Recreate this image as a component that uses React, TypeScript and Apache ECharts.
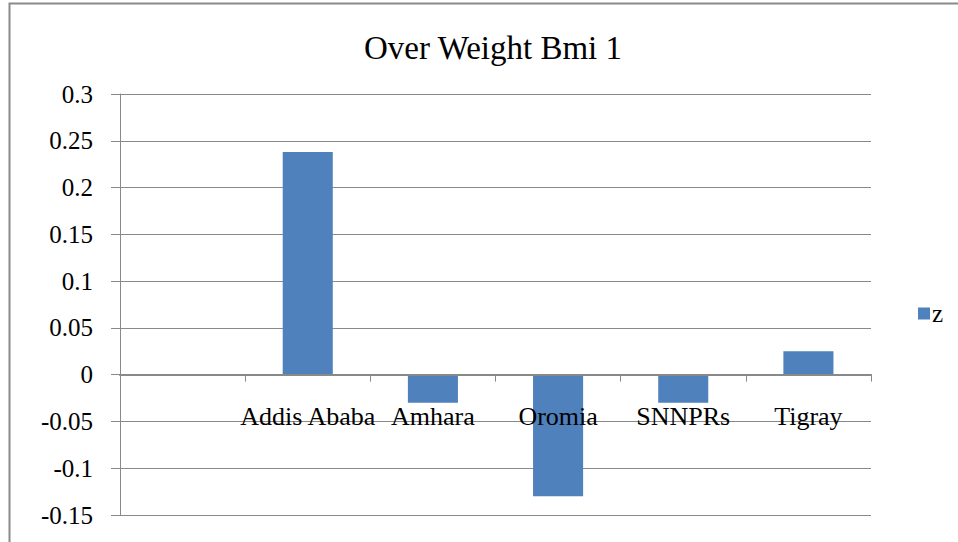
import React, { useEffect, useRef } from "react";
import * as echarts from "echarts";

// Regions on the category axis; the first slot is left empty.
const regions: string[] = ["", "Addis Ababa", "Amhara", "Oromia", "SNNPRs", "Tigray"];
// z value per region (null for the empty slot).
const zValues: (number | null)[] = [null, 0.238, -0.03, -0.13, -0.03, 0.025];
const seriesName = "z";
const chartTitle = "Over Weight Bmi 1";

const Y_MIN = -0.15;
const Y_MAX = 0.3;
const Y_STEP = 0.05;

const FONT = '"Liberation Serif", "Times New Roman", serif';
const GRID_GRAY = "#898989";
const BAR_BLUE = "#4f81bd";

const GRID_TOP = 94;
const GRID_BOTTOM = 27;
const CHART_H = 542;

export default function App() {
  const ref = useRef<HTMLDivElement>(null);

  useEffect(() => {
    if (!ref.current) return;
    const chart = echarts.init(ref.current, null, { renderer: "svg" });
    // Place the category axis (line, ticks and labels) on the zero line.
    const plotH = CHART_H - GRID_TOP - GRID_BOTTOM;
    const zeroFromBottom = (plotH * (0 - Y_MIN)) / (Y_MAX - Y_MIN);
    chart.setOption({
      animation: false,
      backgroundColor: "#ffffff",
      textStyle: { fontFamily: FONT },
      graphic: [
        {
          type: "polyline",
          shape: { points: [[9.5, 542], [9.5, 3.5], [958, 3.5]] },
          style: { stroke: "#8a8a8a", lineWidth: 2, fill: null },
          silent: true,
        },
        {
          type: "text",
          x: 493,
          y: 48,
          style: {
            text: chartTitle,
            font: `33px ${FONT}`,
            fill: "#000000",
            textAlign: "center",
            textVerticalAlign: "middle",
          },
        },
      ],
      legend: {
        data: [seriesName],
        left: 913,
        top: 296,
        orient: "vertical",
        icon: "rect",
        itemWidth: 12,
        itemHeight: 12,
        itemGap: 5,
        textStyle: { fontFamily: FONT, fontSize: 25, color: "#000000", padding: [0, 0, 0, -3] },
      },
      grid: {
        left: 120,
        right: 87,
        top: GRID_TOP,
        bottom: GRID_BOTTOM,
        containLabel: false,
        outerBoundsMode: "none",
      },
      xAxis: {
        type: "category",
        data: regions,
        z: 10,
        position: "bottom",
        offset: -zeroFromBottom,
        axisLine: { onZero: false, lineStyle: { color: GRID_GRAY, width: 2 } },
        axisTick: { show: true, length: 7, alignWithLabel: false, lineStyle: { color: GRID_GRAY, width: 1 } },
        axisLabel: {
          interval: 0,
          margin: 29,
          fontFamily: FONT,
          fontSize: 26,
          color: "#000000",
        },
        splitLine: { show: false },
      },
      yAxis: {
        type: "value",
        min: Y_MIN,
        max: Y_MAX,
        interval: Y_STEP,
        axisLine: { show: true, lineStyle: { color: GRID_GRAY, width: 1 } },
        axisTick: { show: true, inside: false, length: 9, lineStyle: { color: GRID_GRAY } },
        axisLabel: {
          margin: 27,
          fontFamily: FONT,
          fontSize: 25,
          color: "#000000",
          formatter: (v: number) => String(parseFloat(v.toFixed(2))),
        },
        splitLine: { show: true, lineStyle: { color: GRID_GRAY, width: 1 } },
      },
      series: [
        {
          name: seriesName,
          type: "bar",
          data: zValues,
          barWidth: "40%",
          itemStyle: { color: BAR_BLUE },
          z: 2,
        },
      ],
    });
    return () => chart.dispose();
  }, []);

  return <div ref={ref} style={{ width: 958, height: CHART_H, position: "absolute", left: 0, top: 0 }} />;
}
